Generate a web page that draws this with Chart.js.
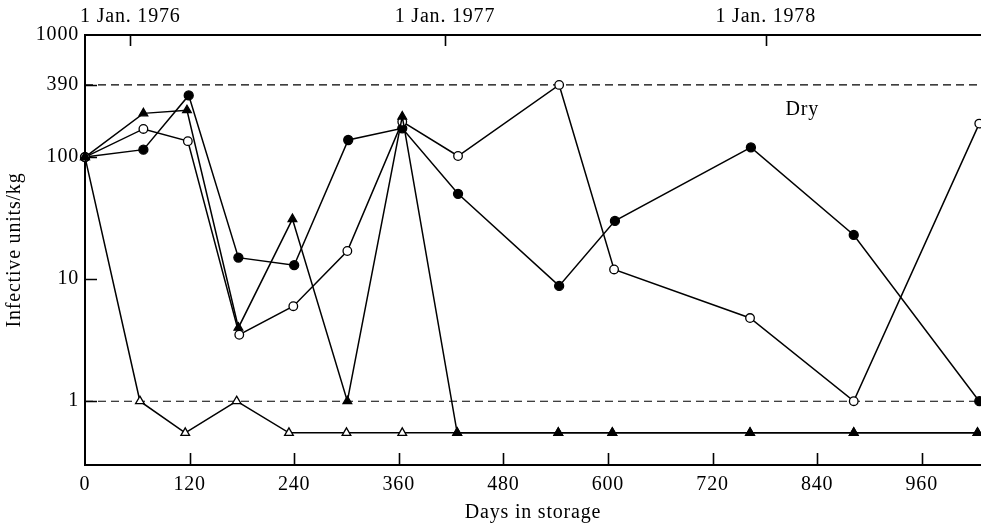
<!DOCTYPE html>
<html>
<head>
<meta charset="utf-8">
<script src="https://cdn.jsdelivr.net/npm/chart.js@4/dist/chart.umd.min.js"></script>
<style>
html,body{margin:0;padding:0;background:#fff;}
#wrap{width:981px;height:527px;position:relative;}
</style>
</head>
<body>
<div id="wrap"><canvas id="c" width="981" height="527"></canvas></div>
<script>
// ---- data (days in storage, infective units/kg) ----
const daysFilledCircle   = [0, 67, 119, 176, 240, 302, 364, 428, 544, 608, 764, 882, 1026];
const valuesFilledCircle = [100, 115, 320, 15, 13, 138, 172, 50, 8.8, 30, 120, 23, 1];

const daysOpenCircle     = [0, 67, 118, 177, 239, 301, 364, 428, 544, 607, 763, 882, 1026];
const valuesOpenCircle   = [100, 170, 135, 3.5, 6.0, 17, 195, 102, 390, 12, 4.8, 1, 188];

const daysFilledTriangle   = [0, 67, 117, 176, 238, 301, 364, 427, 543, 605, 763, 882, 1024];
const valuesFilledTriangle = [100, 228, 242, 4.0, 31, 1, 215, 0.55, 0.55, 0.55, 0.55, 0.55, 0.55];

const daysOpenTriangle   = [0, 63, 115, 174, 234, 300, 364, 427, 543, 605, 763, 882, 1024];
const valuesOpenTriangle = [100, 1, 0.55, 1, 0.55, 0.55, 0.55, 0.55, 0.55, 0.55, 0.55, 0.55, 0.55];

const referenceLevels = [390, 1];
const yTickValues = [1, 10, 100, 390, 1000];
const xTickValues = [0, 120, 240, 360, 480, 600, 720, 840, 960];
const topTickDays = [52, 413, 781];
const topTickLabels = ['1 Jan. 1976', '1 Jan. 1977', '1 Jan. 1978'];
const noteText = 'Dry';
const noteDay = 823;
const noteValue = 245;

const X_MIN = 0, X_MAX = 1028;
const Y_MIN = 0.308, Y_MAX = 1000;

// ---- chart ----
const FONT = "'Liberation Serif', 'Times New Roman', serif";
const FS = 20;
const SPACING = '0.8px';
Chart.defaults.font.family = FONT;
Chart.defaults.color = '#000';

function pts(xs, ys) { return xs.map((x, i) => ({ x: x, y: ys[i] })); }

const base = {
  type: 'line', borderColor: '#000', borderWidth: 1.5, pointBorderColor: '#000',
  pointBorderWidth: 1.3, tension: 0, clip: false, fill: false, xAxisID: 'x', yAxisID: 'y'
};

const datasets = [
  Object.assign({}, base, { label: 'filled triangle', data: pts(daysFilledTriangle, valuesFilledTriangle),
    pointStyle: 'triangle', pointRadius: 5, pointBackgroundColor: '#000' }),
  Object.assign({}, base, { label: 'open triangle', data: pts(daysOpenTriangle, valuesOpenTriangle),
    pointStyle: 'triangle', pointRadius: 5, pointBackgroundColor: '#fff' }),
  Object.assign({}, base, { label: 'open circle', data: pts(daysOpenCircle, valuesOpenCircle),
    pointStyle: 'circle', pointRadius: 4.3, pointBackgroundColor: '#fff' }),
  Object.assign({}, base, { label: 'filled circle', data: pts(daysFilledCircle, valuesFilledCircle),
    pointStyle: 'circle', pointRadius: 4.5, pointBackgroundColor: '#000' })
];
referenceLevels.forEach(v => {
  datasets.push(Object.assign({}, base, {
    label: 'ref ' + v, data: [{ x: X_MIN, y: v }, { x: X_MAX, y: v }],
    borderWidth: 1.1, borderDash: [8, 5], pointRadius: 0, clip: true
  }));
});

const decorations = {
  id: 'decorations',
  beforeDraw(chart) {
    try { chart.ctx.letterSpacing = SPACING; } catch (e) {}
  },
  afterDraw(chart) {
    const ctx = chart.ctx, xs = chart.scales.x, ys = chart.scales.y, xt = chart.scales.x2;
    const area = chart.chartArea;
    ctx.save();
    ctx.strokeStyle = '#000';
    ctx.lineWidth = 1.6;
    ctx.beginPath();
    yTickValues.forEach(v => {
      if (v >= Y_MAX) return;
      const py = Math.round(ys.getPixelForValue(v)) + 0.5;
      ctx.moveTo(area.left, py); ctx.lineTo(area.left + 12, py);
    });
    xTickValues.forEach(v => {
      if (v <= X_MIN) return;
      const px = Math.round(xs.getPixelForValue(v)) + 0.5;
      ctx.moveTo(px, area.bottom); ctx.lineTo(px, area.bottom - 12);
    });
    topTickDays.forEach(v => {
      const px = Math.round(xt.getPixelForValue(v)) + 0.5;
      ctx.moveTo(px, area.top); ctx.lineTo(px, area.top + 11);
    });
    ctx.stroke();
    ctx.fillStyle = '#000';
    ctx.font = FS + 'px ' + FONT;
    ctx.textAlign = 'center';
    ctx.textBaseline = 'middle';
    ctx.fillText(noteText, xs.getPixelForValue(noteDay), ys.getPixelForValue(noteValue));
    ctx.restore();
  }
};

function noSidePad(s) { s.paddingLeft = 0; s.paddingRight = 0; }

new Chart(document.getElementById('c'), {
  type: 'line',
  data: { datasets: datasets },
  options: {
    responsive: false,
    animation: false,
    events: [],
    layout: { padding: 0, autoPadding: false },
    plugins: { legend: { display: false }, tooltip: { enabled: false } },
    scales: {
      x: {
        type: 'linear', position: 'bottom', min: X_MIN, max: X_MAX,
        afterBuildTicks: s => { s.ticks = xTickValues.map(v => ({ value: v })); },
        afterFit: s => { s.height = 62; noSidePad(s); },
        ticks: { color: '#000', font: { family: FONT, size: FS }, padding: 8, maxRotation: 0, autoSkip: false,
                 callback: v => String(v) },
        grid: { display: false, drawTicks: false },
        border: { display: true, color: '#000', width: 2 },
        title: { display: true, text: 'Days in storage', color: '#000', font: { family: FONT, size: FS },
                 padding: { top: 0, bottom: 2 } }
      },
      x2: {
        type: 'linear', position: 'top', min: X_MIN, max: X_MAX,
        afterBuildTicks: s => { s.ticks = topTickDays.map(v => ({ value: v })); },
        afterFit: s => { s.height = 35; noSidePad(s); },
        ticks: { color: '#000', font: { family: FONT, size: FS }, padding: 6, maxRotation: 0, autoSkip: false,
                 callback: (v, i) => topTickLabels[i] },
        grid: { display: false, drawTicks: false },
        border: { display: true, color: '#000', width: 2 }
      },
      y: {
        type: 'logarithmic', position: 'left', min: Y_MIN, max: Y_MAX,
        afterBuildTicks: s => { s.ticks = yTickValues.map(v => ({ value: v })); },
        afterFit: s => { s.width = 85; s.paddingTop = 0; s.paddingBottom = 0; },
        ticks: { color: '#000', font: { family: FONT, size: FS }, padding: 6, autoSkip: false,
                 callback: v => String(v) },
        grid: { display: false, drawTicks: false },
        border: { display: true, color: '#000', width: 2 },
        title: { display: true, text: 'Infective units/kg', color: '#000', font: { family: FONT, size: FS },
                 padding: { top: 3, bottom: 0 } }
      }
    }
  },
  plugins: [decorations]
});
</script>
</body>
</html>
